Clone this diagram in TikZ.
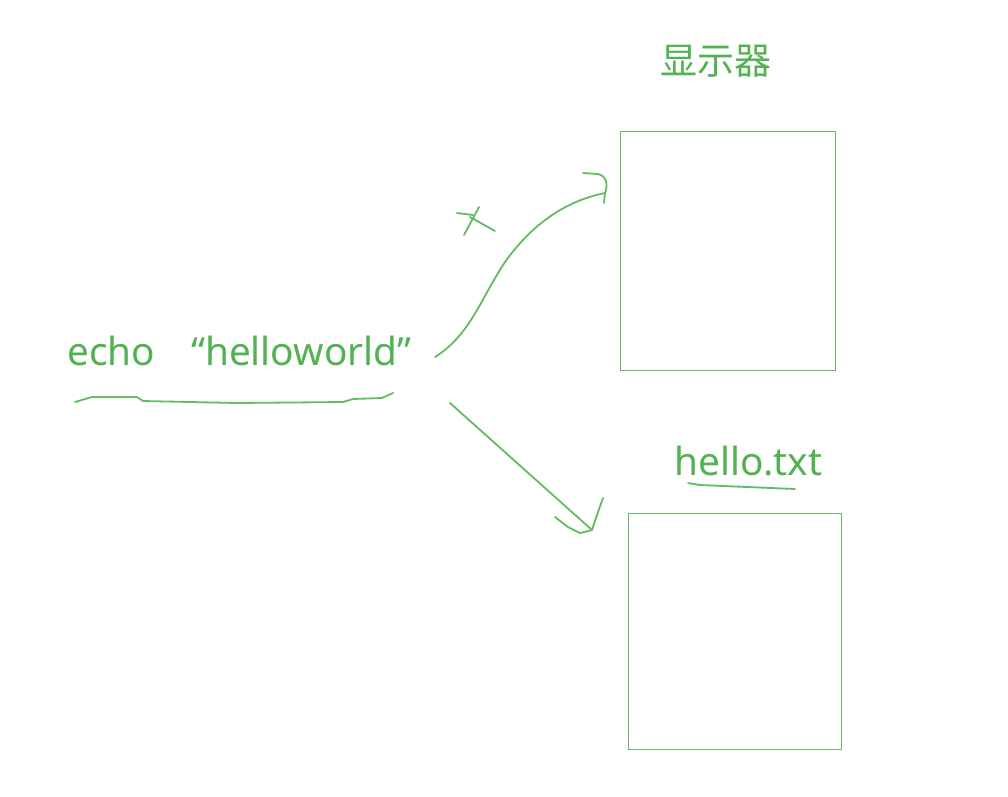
\documentclass[tikz,border=0pt]{standalone}
\usepackage{fontspec}
\setmainfont{Noto Sans}
\newfontfamily\cjk{Noto Sans CJK SC}
\definecolor{pen}{RGB}{98,188,98}
\definecolor{ink}{RGB}{82,178,82}
\begin{document}
\begin{tikzpicture}[x=1pt,y=-1pt,
  stroke/.style={draw=pen,line width=1.8pt,line cap=round,line join=round},
  boxframe/.style={draw=pen,line width=1.3pt,anchor=north west,inner sep=0pt},
  lbl/.style={text=ink,inner sep=0pt,font=\fontsize{38.8}{42}\selectfont}]
\useasboundingbox (0,0) rectangle (1008,796);
\fill[white] (0,0) rectangle (1008,796);

% boxes
\node[boxframe,minimum width=215pt,minimum height=239pt] (screen) at (620,131) {};
\node[boxframe,minimum width=213pt,minimum height=236pt] (file) at (628,513) {};

% labels
\node[lbl,font=\cjk\fontsize{37}{40}\selectfont] (screenlbl) at (716,61) {显示器};
\node[lbl,anchor=base west] (filelbl) at (674,475) {hello.txt};
\node[lbl,anchor=base west] (cmd) at (67,365) {echo\hspace{36pt}“helloworld”};

% underlines
\coordinate (u1) at (75,402);
\coordinate (u2) at (393,393);
\draw[stroke] (u1) -- (92,397) -- (137,397) -- (143,401) -- (237,403) -- (343,402) -- (353,399) -- (382,398) -- (u2);
\coordinate (v1) at (688,483);
\coordinate (v2) at (795,489);
\draw[stroke] (v1) -- (700,485) -- (747,487) -- (v2);

% top arrow (to screen)
\coordinate (a0) at (435,357);
\coordinate (a1) at (505,262);
\coordinate (a2) at (605,193);
\draw[stroke] (a0) .. controls (470,335) and (480,300) .. (a1)
  .. controls (535,220) and (570,200) .. (a2);
\coordinate (h0) at (583,173);
\coordinate (h1) at (604,203);
\draw[stroke] (h0) -- (598,174) .. controls (607,176) and (608,185) .. (a2) -- (h1);

% cross mark
\coordinate (x1) at (457,213);
\coordinate (x2) at (473,215);
\coordinate (x3) at (479,207);
\coordinate (x4) at (464,235);
\coordinate (x5) at (470,217);
\coordinate (x6) at (495,231);
\draw[stroke] (x1) -- (x2);
\draw[stroke] (x3) -- (x4);
\draw[stroke] (x5) -- (x6);

% bottom arrow (to file)
\coordinate (b0) at (450,403);
\coordinate (b1) at (592,530);
\draw[stroke] (b0) -- (b1);
\coordinate (bl) at (555,517);
\coordinate (br) at (603,498);
\draw[stroke] (bl) -- (568,527) -- (580,533) -- (b1) -- (598,512) -- (br);
\end{tikzpicture}
\end{document}
